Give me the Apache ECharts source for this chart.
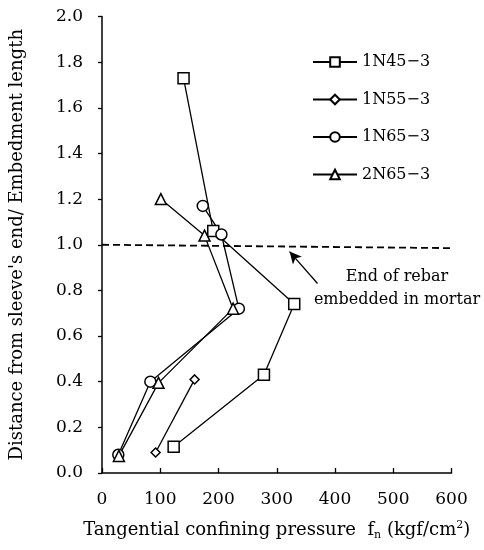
<!DOCTYPE html>
<html>
<head>
<meta charset="utf-8">
<script src="https://cdn.jsdelivr.net/npm/echarts@6/dist/echarts.min.js"></script>
<style>
html,body{margin:0;padding:0;background:#fff;}
#chart{width:484px;height:550px;}
</style>
</head>
<body>
<div id="chart"></div>
<script>
// Tangential confining pressure (kgf/cm2) vs. relative distance from sleeve end
const seriesNames = ['1N45\u22123', '1N55\u22123', '1N65\u22123', '2N65\u22123'];
const pressure1N45 = [140, 191, 330, 278, 123];
const distance1N45 = [1.73, 1.06, 0.74, 0.43, 0.115];
const pressure1N55 = [159, 92];
const distance1N55 = [0.41, 0.09];
const pressure1N65 = [173, 205, 235, 83, 28];
const distance1N65 = [1.17, 1.045, 0.72, 0.40, 0.08];
const pressure2N65 = [101, 176, 225, 97, 29];
const distance2N65 = [1.20, 1.04, 0.72, 0.395, 0.075];

// reference line: end of rebar embedded in mortar
const embedEndX = [0, 610];
const embedEndY = [1.0, 0.985];
const arrowFrom = [370, 0.83];
const arrowTo = [322, 0.97];

const xTicks = {min: 0, max: 600, step: 100};
const yTicks = {min: 0, max: 2.0, step: 0.2};

const serif = '"DejaVu Serif", "Liberation Serif", serif';
const pair = (xs, ys) => xs.map((x, i) => [x, ys[i]]);

const symbols = ['rect', 'diamond', 'circle', 'triangle'];
const symbolSizes = [11, 9, 11, 11];
const dataSets = [
  pair(pressure1N45, distance1N45),
  pair(pressure1N55, distance1N55),
  pair(pressure1N65, distance1N65),
  pair(pressure2N65, distance2N65)
];

const series = seriesNames.map((name, i) => ({
  name: name,
  type: 'line',
  data: dataSets[i],
  symbol: symbols[i],
  symbolSize: symbolSizes[i],
  showAllSymbol: true,
  z: 3,
  lineStyle: {color: '#000', width: 1.3},
  itemStyle: {color: '#fff', borderColor: '#000', borderWidth: 1.5},
  emphasis: {disabled: true}
}));

series.push({
  name: 'embed',
  type: 'line',
  data: pair(embedEndX, embedEndY),
  showSymbol: false,
  clip: false,
  lineStyle: {color: '#000', width: 1.8, type: [7, 4]},
  emphasis: {disabled: true},
  markLine: {
    silent: true,
    symbol: ['none', 'arrow'],
    symbolSize: [9, 12],
    lineStyle: {color: '#000', width: 1.3, type: 'solid'},
    label: {show: false},
    data: [[{coord: arrowFrom}, {coord: arrowTo}]]
  }
});

const chart = echarts.init(document.getElementById('chart'));
chart.setOption({
  animation: false,
  backgroundColor: '#fff',
  grid: {left: 99.5, right: 32.5, top: 16.5, bottom: 77},
  legend: {
    data: seriesNames,
    orient: 'vertical',
    left: 307,
    top: 49,
    itemWidth: 44,
    itemHeight: 12,
    itemGap: 21.5,
    textStyle: {fontFamily: serif, fontSize: 16, color: '#000'}
  },
  xAxis: {
    type: 'value',
    min: xTicks.min, max: xTicks.max, interval: xTicks.step,
    name: '{t|Tangential confining pressure  f}{sub|n}{t| (kgf/cm}{sup|2}{t|)}',
    nameLocation: 'middle',
    nameGap: 47,
    nameTextStyle: {
      rich: {
        t: {fontFamily: serif, fontSize: 18, color: '#000'},
        sub: {fontFamily: serif, fontSize: 11, color: '#000', verticalAlign: 'bottom', padding: [10, 0, 0, 0]},
        sup: {fontFamily: serif, fontSize: 11, color: '#000', verticalAlign: 'top', padding: [0, 0, 10, 0]}
      }
    },
    axisLine: {lineStyle: {color: '#000', width: 1.5}},
    axisTick: {inside: true, length: 5, lineStyle: {color: '#000', width: 1.3}},
    axisLabel: {fontFamily: serif, fontSize: 17, color: '#000', margin: 18},
    splitLine: {show: false}
  },
  yAxis: {
    type: 'value',
    min: yTicks.min, max: yTicks.max, interval: yTicks.step,
    name: "Distance from sleeve's end/ Embedment length",
    nameLocation: 'middle',
    nameGap: 76,
    nameTextStyle: {fontFamily: serif, fontSize: 18, color: '#000'},
    axisLine: {lineStyle: {color: '#000', width: 1.5}},
    axisTick: {inside: false, length: 4, lineStyle: {color: '#000', width: 1.3}},
    axisLabel: {fontFamily: serif, fontSize: 17, color: '#000', margin: 19,
      formatter: v => v.toFixed(1)},
    splitLine: {show: false}
  },
  graphic: [{
    type: 'text',
    x: 397, y: 265,
    z: 10,
    style: {
      text: 'End of rebar\nembedded in mortar',
      align: 'center',
      verticalAlign: 'top',
      font: '16px ' + serif,
      fill: '#000',
      lineHeight: 23
    }
  }],
  series: series
});
</script>
</body>
</html>
